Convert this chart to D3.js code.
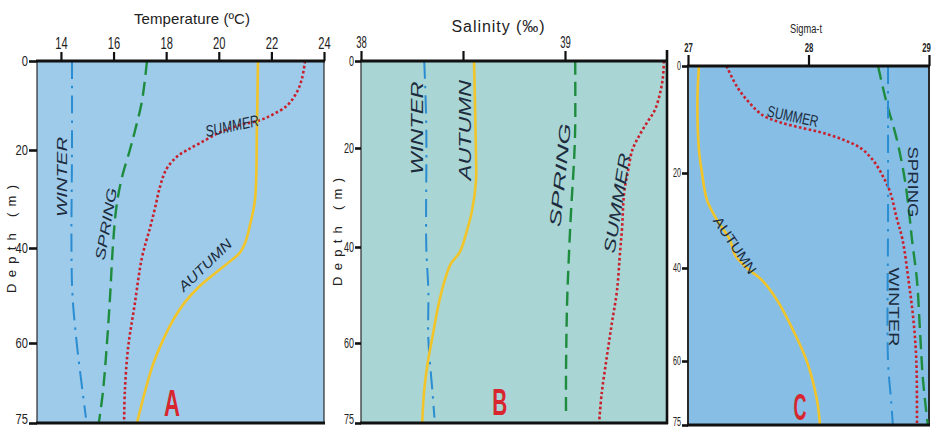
<!DOCTYPE html>
<html><head><meta charset="utf-8">
<script src="https://cdn.jsdelivr.net/npm/d3@7"></script>
<style>body{margin:0;background:#fff;} svg{display:block}</style>
</head><body><svg id="c" width="935" height="428"></svg>
<script>
// ---------------- DATA ----------------
const depthTicks = [0, 20, 40, 60, 75];
const tempTicks = [14, 16, 18, 20, 22, 24];
const salTicks = [38, 38.5, 39];
const sigmaTicks = [27, 28, 29];

// Panel A: temperature (°C) vs depth (m) -> [depth, value]
const tempWinter = [[0,14.42],[20,14.42],[40,14.40],[50,14.44],[60,14.6],[69,14.82],[74,14.95]];
const tempSpring = [[0,17.27],[9,17.08],[16,16.8],[20,16.62],[26,16.3],[32,16.1],[40,15.97],[50,15.87],[60,15.75],[69,15.6],[75,15.44]];
const tempSummer = [[0,23.28],[4,23.16],[7,22.97],[10,22.6],[12,22.06],[13.3,21.57],[14.4,20.8],[16,20.05],[18.4,19.3],[20,18.8],[21.4,18.4],[24,18.0],[27.6,17.76],[32,17.57],[36,17.38],[42,17.08],[52,16.8],[61,16.55],[69,16.43],[75,16.4]];
const tempAutumn = [[0,21.49],[15,21.45],[30,21.38],[35,21.2],[39,21.0],[41,20.8],[42.5,20.5],[45,19.93],[48,19.28],[51.5,18.7],[55.6,18.22],[59.4,17.88],[64,17.5],[69,17.2],[75,16.89]];

// Panel B: salinity (‰)
const salWinter = [[0,38.31],[15,38.32],[40,38.32],[49,38.33],[59,38.33],[69,38.35],[74,38.36]];
const salAutumn = [[0,38.554],[22,38.564],[26.5,38.564],[32.5,38.545],[36.6,38.52],[41,38.485],[43.5,38.44],[47,38.41],[52,38.38],[58.8,38.35],[63,38.33],[68.8,38.31],[75,38.30]];
const salSpring = [[0,39.05],[15,39.05],[22,39.045],[32.5,39.03],[41,39.02],[52,39.01],[65.6,39.005],[74,39.005]];
const salSummer = [[0,39.485],[3.7,39.48],[7.4,39.466],[11.3,39.44],[14.3,39.40],[17.5,39.36],[20.4,39.33],[24.4,39.31],[29,39.29],[36,39.28],[41,39.27],[49,39.255],[55.8,39.23],[62.6,39.205],[69.4,39.18],[75,39.167]];

// Panel C: sigma-t
const sigAutumn = [[0,27.091],[6.4,27.078],[15.7,27.091],[20,27.116],[25.7,27.158],[29.9,27.241],[34.1,27.349],[37.3,27.39],[40.2,27.498],[42.6,27.614],[46.9,27.739],[53.3,27.871],[60.2,27.988],[69.1,28.07],[75,28.095]];
const sigSummer = [[0,27.32],[4,27.41],[7,27.515],[9.2,27.62],[10.5,27.76],[11.6,27.95],[12.5,28.12],[13.8,28.29],[15.3,28.43],[17.6,28.535],[20.8,28.62],[24.2,28.68],[29.3,28.73],[34,28.78],[42.6,28.83],[51,28.87],[60,28.895],[75,28.9]];
const sigSpring = [[0,28.577],[6.4,28.643],[13.8,28.734],[21.5,28.8],[29.9,28.842],[34.1,28.859],[42.6,28.9],[53.3,28.925],[64.4,28.95],[75,28.99]];
const sigWinter = [[0,28.66],[30,28.66],[60,28.66],[69.1,28.685],[75,28.70]];

// Annotation labels: [text, depth, value, rotation]
const labelsA = [["WINTER",25.5,14.04,-90],["SPRING",35.1,15.71,-80],["SUMMER",14.6,20.5,-12],["AUTUMN",43.6,19.48,-44]];
const labelsB = [["WINTER",15.4,38.275,-90],["AUTUMN",15.9,38.51,-90],["SPRING",25.5,38.976,-84],["SUMMER",31.1,39.255,-81]];
const labelsC = [["SUMMER",9.4,27.87,12],["SPRING",21.9,28.867,90],["AUTUMN",35.2,27.39,56],["WINTER",48.4,28.71,90]];
const panelLetters = [["A",71.3,18.22],["B",71.1,38.68],["C",70.8,27.93]];

// ---------------- STYLES ----------------
const SANS = "'Liberation Sans',Arial,sans-serif";
const season = {
  winter: {color:"#2a8dd2", dash:"18,7,2.5,7", width:2},
  spring: {color:"#1e8c3e", dash:"14,7", width:2.4},
  summer: {color:"#c9202c", dash:"2.6,2.4", width:2.6},
  autumn: {color:"#f1c52a", dash:null, width:2.6}
};
const labelColor = "#1c2b3d";
// rendered lengths (px) and font sizes of the season labels, per panel, in label order
const labelLenA = [80, 73, 54, 68];
const labelFontA = [14, 14, 16, 14];
const labelLenB = [93, 100, 104, 101];
const labelFontB = [16, 16, 16, 16];
const labelLenC = [52, 71, 66, 79];
const labelFontC = [16, 14, 14, 14];

const svg = d3.select("#c");

function squeeze(sel, perChar) {
  sel.each(function() {
    const n = this.textContent.length;
    if (n) d3.select(this).attr("textLength", n * perChar).attr("lengthAdjust", "spacingAndGlyphs");
  });
}

function panel(cfg) {
  const g = svg.append("g");
  const x = d3.scaleLinear().domain(cfg.xDomain).range(cfg.xRange);
  const y = d3.scaleLinear().domain(depthTicks).range(cfg.yRange);
  const [x0, x1] = cfg.xRange, y0 = cfg.yRange[0], y1 = cfg.yRange[cfg.yRange.length-1];
  g.append("rect").attr("x", x0).attr("y", y0).attr("width", x1-x0).attr("height", y1-y0)
    .attr("fill", cfg.bg).attr("stroke", "#2a2a2a").attr("stroke-width", cfg.sideW);

  const line = d3.line().x(p => x(p[1])).y(p => y(p[0])).curve(d3.curveCatmullRom.alpha(0.5));
  cfg.series.forEach(([data, key]) => {
    const s = season[key];
    g.append("path").attr("d", line(data)).attr("fill", "none")
      .attr("stroke", s.color).attr("stroke-width", s.width)
      .attr("stroke-dasharray", s.dash).attr("stroke-linejoin", "round");
  });

  // top axis
  const top = g.append("g").attr("transform", `translate(0,${y0})`)
    .call(d3.axisTop(x).tickValues(cfg.xTicks).tickSize(cfg.topTick).tickPadding(3)
      .tickFormat(cfg.xFormat || d3.format("d")));
  top.select(".domain").remove();
  top.selectAll("line").attr("stroke", "#111").attr("stroke-width", 2.2);
  top.selectAll("text").attr("font-family", SANS).attr("font-size", cfg.xTickFont)
    .attr("font-weight", cfg.xTickWeight || "normal").attr("fill", "#222")
    .attr("dx", (d, i, n) => (cfg.lastTickShift && i === n.length - 1) ? cfg.lastTickShift : 0);
  squeeze(top.selectAll("text"), cfg.xTickChar);

  // left axis
  const left = g.append("g").attr("transform", `translate(${x0},0)`)
    .call(d3.axisLeft(y).tickValues(depthTicks).tickSize(cfg.leftTick).tickPadding(1).tickFormat(d3.format("d")));
  left.select(".domain").remove();
  left.selectAll("line").attr("stroke", "#111").attr("stroke-width", 2.6);
  left.selectAll("text").attr("font-family", SANS).attr("font-size", cfg.yTickFont).attr("fill", "#222")
    .attr("dy", d => d === 75 ? "0.0em" : "0.32em");
  squeeze(left.selectAll("text"), cfg.yTickChar);

  // thick top/bottom frame lines
  g.append("line").attr("x1", x0-1).attr("x2", x1+1).attr("y1", y0).attr("y2", y0).attr("stroke", "#111").attr("stroke-width", 2.8);
  g.append("line").attr("x1", x0-1).attr("x2", x1+1).attr("y1", y1).attr("y2", y1).attr("stroke", "#111").attr("stroke-width", 2.8);

  // season labels
  cfg.labels.forEach(([t, d, v, r], i) => {
    g.append("text").attr("transform", `translate(${x(v)},${y(d)}) rotate(${r})`)
      .attr("text-anchor", "middle").attr("dominant-baseline", "central")
      .attr("font-family", SANS).attr("font-size", cfg.labelFont[i])
      .attr("font-style", cfg.labelStyle)
      .attr("textLength", cfg.labelLen[i]).attr("lengthAdjust", "spacingAndGlyphs")
      .attr("fill", labelColor).text(t);
  });
  const L = cfg.letter;
  g.append("text").attr("x", x(L[2])).attr("y", y(L[1])).attr("text-anchor", "middle")
    .attr("dominant-baseline", "central").attr("font-family", SANS).attr("font-weight", "bold")
    .attr("font-size", 36).attr("textLength", cfg.letterW).attr("lengthAdjust", "spacingAndGlyphs")
    .attr("fill", "#d8262e").text(L[0]);

  // axis title
  const tt = g.append("text").attr("x", cfg.title[1]).attr("y", cfg.title[2]).attr("text-anchor", "middle")
    .attr("font-family", SANS).attr("font-size", cfg.title[3]).attr("fill", "#222").text(cfg.title[0]);
  if (cfg.title[4]) tt.attr("textLength", cfg.title[4]).attr("lengthAdjust", cfg.title[5]);
  if (cfg.depthTitle) {
    g.append("text").attr("transform", `translate(${cfg.depthTitle[0]},${cfg.depthTitle[1]}) rotate(-90)`)
      .attr("text-anchor", "middle").attr("dominant-baseline", "central")
      .attr("font-family", SANS).attr("font-size", 13)
      .attr("textLength", 108).attr("lengthAdjust", "spacing")
      .attr("fill", "#222").text("Depth (m)");
  }
  return {g, x, y};
}

panel({
  xDomain:[13.09,24], xRange:[37,324], yRange:[61,150,248,343,423], bg:"#9ecbe9", sideW:1.2,
  series:[[tempWinter,"winter"],[tempSpring,"spring"],[tempSummer,"summer"],[tempAutumn,"autumn"]],
  xTicks:tempTicks, topTick:9, xTickFont:16, xTickChar:6.2, leftTick:8, yTickFont:15, yTickChar:6.2,
  labels:labelsA, labelFont:labelFontA, labelStyle:"italic", labelLen:labelLenA, letterW:16,
  letter:panelLetters[0], title:["Temperature (ºC)",192,24,15,116,"spacing"], depthTitle:[11,239]
});

const pB = panel({
  xDomain:[38,39.5], xRange:[361,667], yRange:[61,148,247,343,423], bg:"#a9d5d4", sideW:1.2,
  series:[[salWinter,"winter"],[salAutumn,"autumn"],[salSpring,"spring"],[salSummer,"summer"]],
  xTicks:salTicks, topTick:10, xTickFont:17, xTickChar:5.3, leftTick:6, yTickFont:14, yTickChar:5,
  xFormat: d => (d % 1 === 0 ? d3.format("d")(d) : ""),
  labels:labelsB, labelFont:labelFontB, labelStyle:"italic", labelLen:labelLenB, letterW:15,
  letter:panelLetters[1], title:["Salinity (‰)",498,32,16,93,"spacing"], depthTitle:[337,232]
});
// right border of panel B extends above the frame
pB.g.append("line").attr("x1", 667).attr("x2", 667).attr("y1", 50).attr("y2", 424).attr("stroke", "#111").attr("stroke-width", 2.6);

panel({
  xDomain:[27,29], xRange:[688,929], yRange:[66,173,268,361,425], bg:"#86bee5", sideW:2,
  series:[[sigAutumn,"autumn"],[sigSummer,"summer"],[sigSpring,"spring"],[sigWinter,"winter"]],
  xTicks:sigmaTicks, topTick:11, xTickFont:12, xTickWeight:"bold", xTickChar:4.3, lastTickShift:-3,
  leftTick:6, yTickFont:12, yTickChar:4,
  labels:labelsC, labelFont:labelFontC, labelStyle:"normal", labelLen:labelLenC, letterW:13,
  letter:panelLetters[2], title:["Sigma-t",806,33,12,32,"spacingAndGlyphs"], depthTitle:null
});
</script></body></html>
